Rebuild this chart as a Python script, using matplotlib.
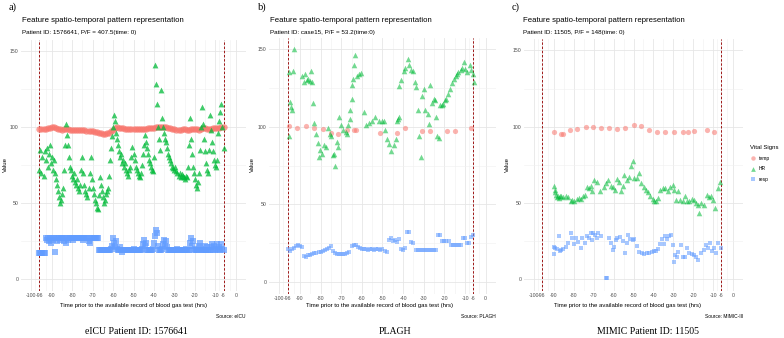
import numpy as np
import matplotlib
matplotlib.use('Agg')
import matplotlib.pyplot as plt
from matplotlib.lines import Line2D

W, H = 784, 338

# ggplot default colours for the three vital signs
col_temp, col_hr, col_resp = '#F8766D', '#00BA38', '#619CFF'

x_breaks = [-100, -96, -90, -80, -70, -60, -50, -40, -30, -20, -10, -6, 0]
y_breaks = [0, 50, 100, 150]

# ---- a) eICU patient 1576641 ----
# temp: hourly from -96 to -6
a_temp = [98.5, 98.5, 98.6, 98.6, 99.0, 99.5, 100.0, 100.0, 99.5, 98.8,
          98.5, 98.3, 98.6, 98.8, 98.4, 98.1, 98.0, 97.9, 97.8, 97.8,
          97.9, 97.8, 97.7, 97.6, 97.5, 97.6, 97.4, 97.0, 96.6, 96.2,
          95.8, 95.6, 95.6, 95.8, 96.3, 97.2, 98.3, 99.5, 100.0, 99.5,
          99.2, 99.0, 98.8, 98.6, 98.5, 98.4, 98.4, 98.5, 98.5, 98.6,
          98.7, 98.8, 98.9, 99.0, 99.2, 99.4, 99.6, 99.8, 100.0, 100.1,
          100.2, 100.3, 100.0, 99.6, 99.2, 98.8, 98.5, 98.3, 98.2, 98.3,
          98.5, 98.4, 98.3, 98.2, 98.4, 98.6, 98.8, 98.5, 98.3, 98.6,
          99.0, 99.2, 98.9, 98.6, 98.8, 99.0, 99.2, 99.4, 99.6, 99.8,
          99.8]
# HR and resp: every half hour from -96 to -6
a_hr = [72, 85, 70, 80, 68, 84, 78, 86, 74, 82,
        88, 76, 80, 72, 78, 70, 66, 62, 58, 54,
        50, 52, 56, 60, 72, 88, 102, 95, 88, 80,
        74, 72, 68, 66, 70, 64, 62, 66, 60, 58,
        62, 72, 80, 70, 62, 58, 56, 54, 60, 70,
        80, 66, 60, 56, 52, 50, 47, 46, 55, 67,
        62, 58, 54, 50, 52, 56, 58, 60, 68, 78,
        86, 94, 100, 108, 104, 96, 92, 88, 84, 80,
        82, 76, 78, 74, 76, 72, 70, 68, 72, 74,
        80, 87, 82, 78, 74, 72, 70, 68, 67, 70,
        75, 82, 88, 95, 90, 86, 82, 78, 76, 74,
        72, 71, 80, 141, 128, 115, 100, 92, 85, 124,
        106, 100, 96, 92, 90, 86, 82, 80, 78, 76,
        74, 73, 72, 74, 71, 70, 68, 70, 67, 69,
        68, 67, 66, 68, 67, 74, 88, 106, 92, 82,
        74, 70, 66, 62, 60, 64, 70, 85, 100, 113,
        102, 92, 84, 76, 72, 70, 85, 108, 98, 90,
        84, 78, 75, 74, 78, 96, 104, 110, 115, 100,
        86]
a_resp = [17, 17, 17, 17, 17, 17,
          27, 26, 27, 25, 27, 24, 27, 26, 27, 18,
          27, 25, 27, 27, 26, 27, 27, 27, 25, 27,
          24, 27, 26, 27, 27, 27, 27, 26, 27, 27,
          27, 27, 27, 27, 27, 27, 27, 26, 27, 27,
          27, 27, 25, 24, 27, 27, 27, 27, 27, 27,
          27, 27,
          19, 19, 19, 19, 19, 19, 19, 19, 19, 19,
          19, 19, 20, 22, 27, 24, 21, 25, 20, 19,
          19, 21, 19, 18, 19, 19, 19, 19, 19, 19,
          19, 19, 19, 19, 20, 19, 19, 19, 19, 19,
          19, 19, 20, 23, 26, 22, 24, 19, 19, 19,
          19, 19, 19, 20, 24, 28, 32, 30, 22, 19,
          19, 19, 20, 23, 26, 22, 25, 21, 19, 19,
          19, 19, 19, 19, 19, 19, 19, 20, 19, 19,
          19, 19, 19, 19, 19, 20, 19, 19, 19, 24,
          27, 22, 25, 19, 20, 19, 19, 19, 22, 24,
          20, 19, 19, 19, 22, 19, 21, 19, 19, 19,
          21, 23, 19, 22, 19, 20, 23, 19, 21, 19,
          23, 20, 19]

# ---- b) PLAGH case15 ----
b_temp_t = [-95.2, -91.3, -87.1, -83.2, -78.7, -75.0, -71.4, -67.0, -63.6, -62.9,
            -51.1, -43.0, -39.0, -30.9, -26.8, -18.7, -14.7, -7.1]
b_temp_v = [100.4, 99.4, 100.3, 99.2, 98.3, 96.0, 95.5, 97.7, 97.7, 97.7,
            96.0, 96.0, 99.4, 97.2, 97.2, 97.0, 97.0, 99.4]
b_hr_t = [-95.4, -95.4, -94.9, -94.4, -93.7, -93.2, -92.8, -89.2, -87.9, -87.6,
          -86.8, -86.0, -85.1, -84.7, -84.3, -83.5, -83.0, -82.4, -81.1, -80.8,
          -80.3, -79.5, -78.2, -77.5, -76.6, -75.4, -75.0, -73.8, -73.3, -73.0,
          -72.2, -71.7, -71.0, -70.1, -68.9, -67.8, -67.3, -66.5, -65.7, -65.7,
          -64.9, -64.6, -64.1, -63.6, -63.3, -62.5, -61.6, -60.3, -59.2, -58.1,
          -56.5, -55.2, -53.5, -51.6, -50.3, -49.5, -48.7, -47.9, -46.7, -45.8,
          -44.6, -43.5, -43.0, -42.5, -42.2, -41.9, -40.9, -39.7, -38.9, -37.6,
          -37.0, -36.0, -35.4, -34.4, -33.8, -32.8, -32.1, -31.5, -30.8, -30.0,
          -29.2, -27.9, -27.6, -26.8, -25.9, -25.2, -24.4, -24.0, -23.5, -22.7,
          -22.2, -21.4, -20.6, -19.8, -19.2, -18.2, -17.1, -16.2, -15.4, -14.6,
          -13.8, -13.3, -12.2, -11.4, -10.6, -9.8, -9.0, -7.8, -6.9, -6.2, -5.9]
b_hr_v = [135, 94, 116, 113, 111, 136, 150, 133, 129, 134,
          130, 131, 129.5, 136, 129, 115.5, 102.5, 95.5, 89.5, 80.5,
          85, 82.5, 88, 87, 99, 95.5, 94, 81.5, 82.5, 74.5,
          90, 87, 106, 101, 98, 96.5, 95.5, 101, 105, 110.5,
          118, 126.7, 131, 139.5, 146, 133, 134, 134.5, 109.5, 101,
          102.5, 104, 106, 104, 104, 104, 97.7, 92.4, 89, 84.5,
          88, 92.4, 104, 105, 106, 126, 130, 136, 138, 143.5,
          139.5, 136.5, 136, 129, 125.7, 111, 94, 80.5, 120, 124,
          111, 108, 101.5, 127, 115.5, 118, 117, 106, 94, 93,
          114, 114, 114.5, 117, 118, 121, 124.5, 128, 131, 132.5,
          134, 135, 136.5, 138, 142, 137, 135, 140, 136.5, 134, 129]
# resp: hourly from -96 to -6
b_resp = [21, 20, 21.5, 22, 23, 23.5, 23, 22.5, 16.5, 16,
          17, 17.5, 18, 18.5, 18.5, 19, 19.5, 20, 20.5, 21,
          22, 23, 20, 18.5, 18, 18, 18, 18, 18, 18.5,
          19, 23, 24, 23.5, 22.5, 22, 21, 21.5, 21, 20.5,
          21, 21, 20.5, 21, 21, 20.5, 21, 20, 19.5, 27,
          28, 26.5, 27, 26, 27.5, 21, 20.5, 22, 32, 32,
          26, 25, 20.5, 20.5, 20.5, 20.5, 20.5, 20.5, 20.5, 20.5,
          20.5, 20.5, 20.5, 30.5, 30.5, 26.5, 26.5, 26.5, 26.5, 24,
          24, 24, 24, 24, 24, 28, 28, 25, 25, 29,
          30.5]

# ---- c) MIMIC patient 11505 ----
c_temp_t = [-90.0, -86.6, -85.3, -81.9, -78.2, -74.0, -70.2, -66.5, -62.3, -58.1,
            -54.2, -50.0, -46.3, -42.4, -38.2, -34.0, -29.5, -25.3, -22.8, -19.4,
            -13.0, -9.8]
c_temp_v = [96.3, 95.4, 94.9, 98.0, 98.5, 99.8, 99.8, 99.1, 99.1, 98.7,
            99.1, 100.9, 100.2, 97.6, 96.3, 96.3, 96.3, 96.3, 96.7, 96.9,
            98.0, 96.3]
c_hr_t = [-90.0, -89.5, -89.2, -88.7, -88.3, -87.8, -87.5, -87.0, -86.3, -85.3,
          -84.1, -82.9, -81.6, -80.8, -79.9, -78.6, -77.4, -76.6, -75.2, -74.5,
          -73.5, -72.4, -71.5, -70.7, -69.8, -68.5, -66.9, -64.8, -64.0, -62.8,
          -61.4, -60.1, -59.4, -58.4, -57.2, -56.4, -55.5, -54.7, -53.4, -52.2,
          -51.3, -50.5, -49.7, -48.3, -47.1, -46.3, -44.9, -43.8, -42.9, -41.6,
          -40.4, -39.6, -38.7, -37.6, -36.6, -35.4, -34.2, -32.9, -31.5, -30.3,
          -29.5, -28.7, -27.8, -26.5, -25.3, -24.1, -23.1, -21.9, -20.8, -19.7,
          -18.6, -17.4, -16.9, -16.1, -14.7, -13.0, -12.2, -11.0, -10.2, -9.0,
          -7.6, -6.5]
c_hr_v = [61.2, 58.6, 56.8, 55.3, 53.8, 54.6, 53.1, 54.2, 54.6, 53.8,
          54.6, 53.8, 50.9, 52.0, 51.5, 52.4, 53.1, 52.4, 54.6, 55.3,
          60.7, 59.7, 61.2, 58.1, 64.7, 63.4, 58.1, 60.7, 62.9, 65.1,
          61.2, 60.7, 58.6, 65.4, 63.4, 58.1, 61.2, 68.4, 64.7, 66.9,
          73.9, 77.2, 66.2, 66.2, 69.9, 62.9, 60.7, 58.6, 56.8, 54.2,
          52.4, 51.5, 51.5, 53.1, 58.6, 59.7, 59.7, 57.5, 60.7, 61.8,
          58.6, 52.0, 57.5, 52.0, 51.5, 54.6, 50.9, 50.9, 52.4, 52.0,
          50.2, 48.7, 43.2, 49.8, 48.7, 55.3, 53.8, 54.2, 52.0, 46.5,
          59.7, 63.4]
c_resp_t = [-90.0, -90.0, -89.2, -88.3, -87.5, -87.0, -86.3, -85.3, -84.1, -82.9,
            -81.6, -80.8, -79.9, -79.1, -77.9, -76.6, -75.7, -74.5, -73.2, -72.4,
            -71.5, -70.7, -70.2, -69.5, -68.5, -67.8, -66.1, -64.0, -63.1, -62.3,
            -61.1, -60.1, -59.7, -58.9, -58.1, -56.7, -55.5, -54.4, -53.4, -52.7,
            -51.7, -50.5, -49.7, -48.3, -47.1, -45.9, -44.6, -43.3, -42.1, -40.9,
            -39.9, -38.7, -37.6, -36.6, -35.9, -34.9, -34.2, -33.2, -32.0, -31.2,
            -30.3, -29.8, -29.1, -28.1, -27.5, -26.1, -25.3, -24.1, -23.1, -21.9,
            -20.8, -19.7, -18.6, -17.7, -16.1, -14.7, -13.5, -12.7, -11.8, -10.7,
            -9.7, -8.5, -7.6, -6.3]
c_resp_v = [16.4, 21.2, 20.2, 19.5, 28.3, 18.6, 19.1, 19.5, 20.8, 23.9,
            30.5, 26.8, 23.1, 26.8, 24.6, 20.2, 26.8, 23.9, 28.3, 26.8,
            30.0, 25.7, 30.5, 29.0, 26.8, 30.5, 28.3, 0.4, 0.4, 26.8,
            23.9, 19.1, 21.2, 25.7, 26.8, 27.4, 25.2, 17.3, 23.9, 29.0,
            26.1, 25.7, 26.1, 21.7, 18.0, 17.3, 16.4, 16.9, 16.9, 18.0,
            18.6, 18.6, 19.5, 23.1, 26.1, 23.1, 28.3, 26.1, 28.3, 29.0,
            22.4, 11.5, 15.9, 14.3, 18.0, 22.4, 14.3, 14.3, 20.2, 17.3,
            16.4, 15.9, 14.3, 12.5, 17.3, 19.1, 22.4, 20.2, 23.5, 18.6,
            20.2, 17.3, 23.5, 20.2]


def box(left, top, right, bottom):
    # pixel box -> figure fraction rect
    return [left / W, 1 - bottom / H, (right - left) / W, (bottom - top) / H]


def txt(x, y, s, **kw):
    fig.text(x / W, 1 - y / H, s, **kw)


def setup(ax):
    ax.set_xlim(-105, 5)
    ax.set_ylim(-7.5, 157.5)
    ax.set_xticks(x_breaks)
    ax.set_xticklabels([str(b) for b in x_breaks])
    ax.set_xticks([(p + q) / 2 for p, q in zip(x_breaks[:-1], x_breaks[1:])], minor=True)
    ax.set_yticks(y_breaks)
    ax.set_yticks([25, 75, 125], minor=True)
    ax.grid(which='major', color='#E6E6E6', lw=0.6)
    ax.grid(which='minor', color='#F0F0F0', lw=0.4)
    ax.set_axisbelow(True)
    for s in ax.spines.values():
        s.set_visible(False)
    ax.tick_params(which='both', length=0, labelsize=3.7, colors='#4D4D4D', pad=2)
    for v in (-96, -6):
        ax.axvline(v, color='#A01818', ls=(0, (2.5, 1.8)), lw=0.7, zorder=1)


def points(ax, t, v, kind, k=1.0, a=0.55):
    # k scales marker area (the eICU panel is much denser)
    if kind == 'temp':
        ax.scatter(t, v, s=14 * k, marker='o', color=col_temp, alpha=a, lw=0, zorder=3)
    elif kind == 'hr':
        ax.scatter(t, v, s=16 * k, marker='^', color=col_hr, alpha=a, lw=0, zorder=3)
    else:
        ax.scatter(t, v, s=12 * k, marker='s', color=col_resp, alpha=a, lw=0, zorder=3)


fig = plt.figure(figsize=(W / 100, H / 100), dpi=100)
sans = 'Liberation Sans'
serif = 'Liberation Serif'

hourly = np.arange(-96, -5.5, 1.0)
half = np.arange(-96, -5.75, 0.5)

# panel a
ax_a = fig.add_axes(box(21, 39.5, 246, 290.5))
setup(ax_a)
points(ax_a, hourly[:len(a_temp)], a_temp, 'temp', 1.5, 0.7)
points(ax_a, half[:len(a_hr)], a_hr, 'hr', 1.1, 0.75)
points(ax_a, half[:len(a_resp)], a_resp, 'resp', 1.3, 0.7)

# panel b
ax_b = fig.add_axes(box(269, 37.5, 496, 293.5))
setup(ax_b)
points(ax_b, b_temp_t, b_temp_v, 'temp')
points(ax_b, b_hr_t, b_hr_v, 'hr')
points(ax_b, hourly[:len(b_resp)], b_resp, 'resp')

# panel c
ax_c = fig.add_axes(box(524, 39, 743, 290.5))
setup(ax_c)
points(ax_c, c_temp_t, c_temp_v, 'temp')
points(ax_c, c_hr_t, c_hr_v, 'hr')
points(ax_c, c_resp_t, c_resp_v, 'resp')

panels = [
    (ax_a, 'a)', 13, 22, 'Patient ID: 1576641, P/F = 407.5(time: 0)', 5, 133.5, 246,
     'Source: eICU', 136, 'eICU Patient ID: 1576641'),
    (ax_b, 'b)', 262, 270, 'Patient ID: case15, P/F = 53.2(time:0)', 252, 380, 496,
     'Source: PLAGH', 395, 'PLAGH'),
    (ax_c, 'c)', 516, 523, 'Patient ID: 11505, P/F = 148(time: 0)', 507, 628, 743,
     'Source: MIMIC-III', 648, 'MIMIC Patient ID: 11505'),
]
for ax, lab, lab_x, tx, sub, ylab_x, xlab_x, src_x, src, cap_x, cap in panels:
    txt(lab_x, 7, lab, family=serif, fontsize=7.5, ha='center', va='center')
    txt(tx, 21, 'Feature spatio-temporal pattern representation',
        family=sans, fontsize=5.6, va='center')
    txt(tx, 32.5, sub, family=sans, fontsize=4.5, va='center')
    txt(ylab_x, 165, 'Value', family=sans, fontsize=4.3, rotation=90,
        ha='center', va='center')
    txt(xlab_x, 306, 'Time prior to the available record of blood gas test (hrs)',
        family=sans, fontsize=4.3, ha='center', va='center')
    txt(src_x, 316.5, src, family=sans, fontsize=3.5, ha='right', va='center')
    txt(cap_x, 331, cap, family=serif, fontsize=7, ha='center', va='center')
    for lbl in ax.get_xticklabels() + ax.get_yticklabels():
        lbl.set_family(sans)

# legend for vital signs
handles = [
    Line2D([], [], marker='o', ls='', color=col_temp, alpha=0.55, markersize=3.2, mew=0),
    Line2D([], [], marker='^', ls='', color=col_hr, alpha=0.55, markersize=3.4, mew=0),
    Line2D([], [], marker='s', ls='', color=col_resp, alpha=0.55, markersize=3.0, mew=0),
]
leg = fig.legend(handles, ['temp', 'HR', 'resp'], title='Vital Signs',
                 loc='upper left', bbox_to_anchor=(747 / W, 1 - 142 / H),
                 frameon=False, title_fontsize=4.3,
                 handletextpad=0.6, labelspacing=1.1, handlelength=1.0,
                 borderpad=0.2, alignment='left', prop={'family': sans, 'size': 3.6})
leg.get_title().set_family(sans)

fig.savefig('out.png', dpi=100)
